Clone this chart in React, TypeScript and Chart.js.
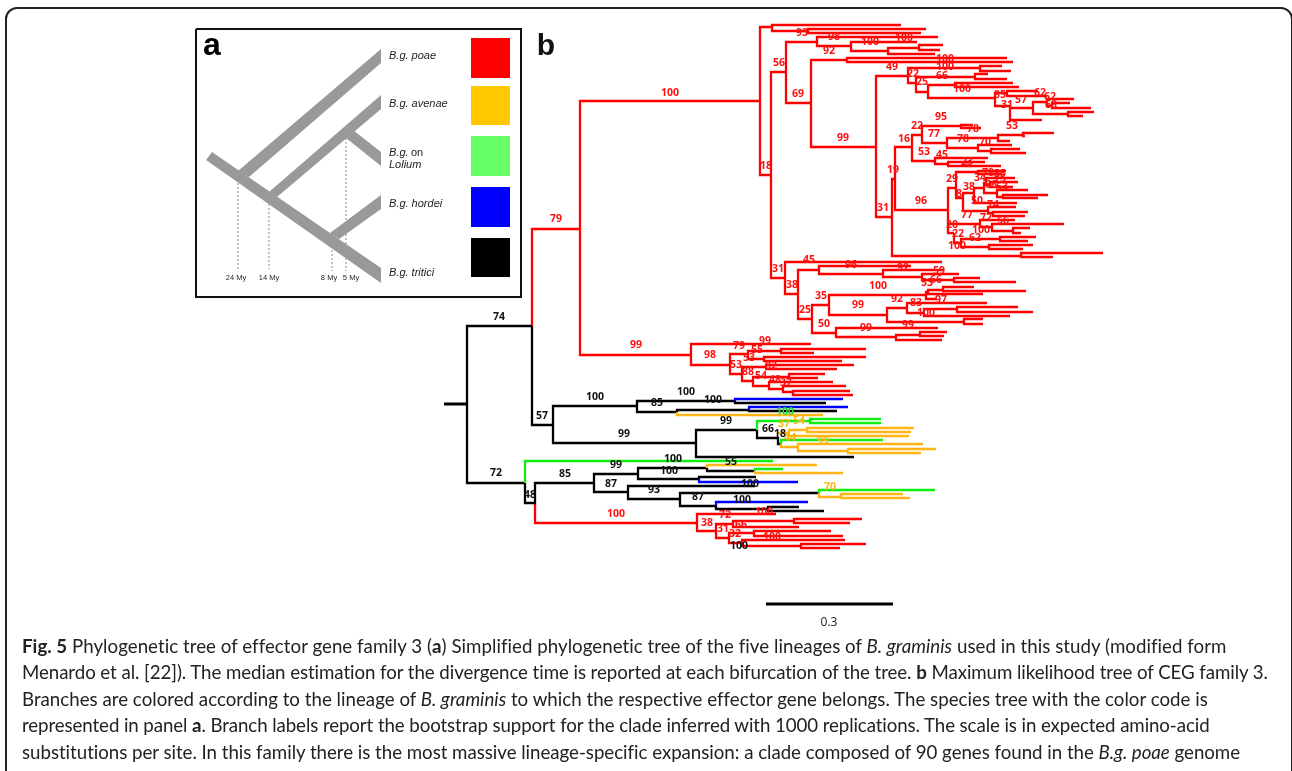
import React, { useEffect, useRef } from "react";
import { Chart, registerables } from "chart.js";

Chart.register(...registerables);

// Node brackets: [node position, upper tip y, upper tip x, lower tip y, lower tip x]
const redNodes = [
  [760,27,772,175,771],[772,25,901,31,808],[808,29,926,33,921],[771,72,786,278,785],
  [786,42,817,103,811],[817,37,938,46,851],[851,42,917,51,888],[888,48,919,54,935],
  [919,45,943,50,940],[811,60,847,147,876],[847,58,1007,62,1013],[876,76,908,217,892],
  [908,68,980,83,916],[916,77,975,92,928],[980,66,1002,71,1011],[975,74,988,79,1007],
  [928,85,955,98,995],[955,83,1013,87,1019],[995,93,1007,106,1010],[1007,91,1038,96,1047],
  [1010,108,1033,120,1042],[1033,102,1047,114,1068],[1047,99,1074,106,1052],[1052,103,1070,108,1091],
  [1068,112,1094,116,1083],[892,179,895,256,1021],[895,147,912,210,948],[1021,253,1103,257,1053],
  [912,135,922,161,935],[922,126,961,143,947],[961,125,973,128,981],[947,138,998,148,978],
  [998,135,1023,141,1010],[1023,133,1054,136,1025],[978,145,1012,151,991],[991,149,1020,153,1026],
  [935,158,988,164,948],[948,162,985,166,1001],[948,188,956,233,954],[956,172,978,198,963],
  [978,171,1006,174,1002],[963,193,974,211,988],[974,188,984,203,1017],[984,183,986,193,997],
  [986,178,1015,185,990],[990,182,1018,187,1013],[997,190,1028,197,1003],[1003,195,1048,198,1038],
  [988,207,1016,213,993],[993,212,1028,216,1025],[948,224,980,233,954],[980,220,1015,227,992],
  [992,224,1064,231,1013],[1013,228,1030,233,1021],[954,233,954,243,961],[961,239,1000,247,989],
  [1000,237,1036,241,1028],[989,245,1033,249,1023],[785,262,942,294,798],[798,270,819,319,812],
  [819,266,911,274,883],[883,270,944,277,922],[922,274,959,280,954],[954,278,980,282,1016],
  [812,305,829,333,836],[829,295,926,315,887],[926,292,928,299,937],[928,290,943,294,983],
  [943,287,974,291,1026],[887,308,907,322,964],[907,303,987,313,924],[924,309,957,316,1010],
  [957,307,1018,312,1033],[964,319,983,324,983],[836,328,938,337,896],[896,335,920,340,942],
  [920,332,947,336,944],[580,101,760,355,691],[691,344,811,365,730],[730,354,748,374,742],
  [748,351,781,359,764],[781,349,866,353,814],[764,357,866,361,842],[742,367,766,381,753],
  [766,365,854,369,837],[753,377,789,386,769],[789,374,825,378,818],[769,382,833,389,783],
  [783,386,846,392,793],[793,391,850,395,853],[697,514,776,531,716],[716,524,733,538,729],
  [733,521,794,527,799],[794,519,862,523,850],[729,533,754,543,742],[754,531,831,536,843],
  [742,540,845,546,801],[801,544,866,548,840],
];
const blackNodes = [
  [467,326,532,483,525],[553,406,637,443,696],[637,401,735,412,677],[696,430,757,457,854],
  [594,474,638,492,628],[638,468,707,479,699],[628,486,755,499,680],[680,493,819,506,716],
  [768,507,799,511,824],
];
const greenNodes = [[810,419,881,423,881]];
const orangeNodes = [
  [789,430,807,436,909],[807,428,914,432,911],[798,444,923,451,848],[848,449,936,453,921],
  [841,494,903,498,910],
];

// Branch paths whose colour changes at a node: x, y, x, y ...
const redPaths = [[580,229,532,229,532,326],[535,503,535,523,697,523]];
const blackPaths = [
  [532,326,532,425,553,425],[735,401,735,403,826,403],[677,412,677,410,749,410],
  [749,410,749,411,837,411],[757,430,757,438,778,438,778,444,781,444],
  [525,483,525,503,535,503,535,483,594,483],[707,468,707,471,755,471],
  [699,479,699,477,756,477],[716,506,716,509,768,509],
];
const bluePaths = [
  [735,401,735,399,843,399],[749,410,749,407,848,407],[699,479,699,482,798,482],
  [716,506,716,502,808,502],
];
const orangePaths = [
  [677,412,677,415,823,415],[778,433,789,433],[781,444,781,447,798,447],
  [707,468,707,465,817,465],[755,471,755,473,843,473],[819,493,819,497,841,497],
];
const greenPaths = [
  [757,430,757,421,810,421],[781,444,781,440,883,440],[525,483,525,461,773,461],
  [755,471,755,469,783,469],[819,493,819,490,935,490],
];
const rootStub = [444,404,467,404];
const scaleBar = [766,604,893,604];

// Bootstrap support labels: [text, x, y]
const redLabels: [string, number, number][] = [
  ["100",670,93],["79",556,219],["99",636,345],["93",802,33],["98",834,37],["100",870,42],
  ["100",904,38],["92",829,51],["56",779,63],["69",798,94],["49",892,67],["100",945,59],
  ["100",945,67],["22",913,74],["66",942,76],["25",922,82],["100",962,89],["85",1000,95],
  ["62",1040,93],["62",1050,97],["57",1021,100],["31",1007,105],["68",1051,105],["53",1012,126],
  ["95",941,117],["22",917,126],["78",973,129],["77",934,134],["16",904,139],["99",843,138],
  ["78",963,139],["70",985,142],["53",924,152],["45",942,155],["23",967,162],["19",893,170],
  ["18",766,166],["31",883,208],["96",921,201],["29",952,179],["78",988,173],["55",1000,174],
  ["34",980,178],["75",1000,179],["38",969,187],["66",991,185],["53",1002,187],["8",959,194],
  ["50",977,201],["74",993,205],["77",967,215],["72",986,218],["56",1003,221],["20",952,225],
  ["100",981,230],["22",958,234],["62",975,238],["100",957,246],["45",809,260],["96",851,265],
  ["92",903,268],["59",939,271],["66",936,280],["53",927,283],["100",878,286],["31",778,269],
  ["38",792,285],["35",821,296],["92",897,299],["97",941,300],["83",916,303],["99",858,305],
  ["25",805,310],["100",926,313],["50",824,324],["99",908,325],["99",866,328],["99",765,341],
  ["79",739,346],["55",757,350],["98",710,355],["53",749,358],["53",736,365],["82",771,366],
  ["88",748,372],["54",761,376],["48",775,380],["37",786,383],["100",616,514],["38",707,523],
  ["72",725,515],["100",764,512],["66",741,525],["31",723,529],["32",735,534],["100",772,537],
];
const blackLabels: [string, number, number][] = [
  ["74",499,317],["57",542,416],["100",595,397],["85",657,403],["100",686,392],["100",713,400],
  ["99",726,421],["99",624,434],["66",768,429],["18",780,434],["72",496,473],["85",565,474],
  ["99",616,465],["100",673,459],["55",731,462],["100",669,471],["87",611,484],["93",654,490],
  ["87",698,497],["48",530,495],["100",750,484],["100",742,500],["100",739,546],
];
const greenLabels: [string, number, number][] = [["100",785,412]];
const orangeLabels: [string, number, number][] = [
  ["37",784,424],["54",799,421],["44",790,438],["99",823,441],["70",830,487],
];

// Panel a: species tree bands, times and lineage key
const speciesBands = [
  [212,152,381,268,381,283,206,160],
  [238,171,381,49,381,63,249,177],
  [269,192,381,95,381,109,277,197],
  [353,130,381,152,381,166,346,138],
  [330,233,381,195,381,209,339,239],
];
const divergenceLines = [
  [238,171,238,269],[269,192,269,269],[332,234,332,271],[346,138,346,271],
];
const divergenceLabels: [string, number, number][] = [
  ["24 My",236,277],["14 My",269,277],["8 My",329,277],["5 My",351,277],
];
const lineageItalic: [string, number, number][] = [
  ["B.g. poae",389,55],["B.g. avenae",389,103],["B.g.",389,152],["Lolium",389,164],
  ["B.g. hordei",389,203],["B.g. tritici",389,272],
];
const lineagePlain: [string, number, number][] = [["on",411,152]];
const keyColours = ["#FF0000","#FFC800","#66FF66","#0000FF","#000000"];
const keyTops = [38,86,136,187,238];
const keyBottoms = [78,125,176,227,277];
const panelFrame = [196,29,521,29,521,297,196,297,196,29];

const captionLines = [
  <><b>Fig. 5</b> Phylogenetic tree of effector gene family 3 (<b>a</b>) Simplified phylogenetic tree of the five lineages of <i>B. graminis</i> used in this study (modified form</>,
  <>Menardo et al. [22]). The median estimation for the divergence time is reported at each bifurcation of the tree. <b>b</b> Maximum likelihood tree of CEG family 3.</>,
  <>Branches are colored according to the lineage of <i>B. graminis</i> to which the respective effector gene belongs. The species tree with the color code is</>,
  <>represented in panel <b>a</b>. Branch labels report the bootstrap support for the clade inferred with 1000 replications. The scale is in expected amino-acid</>,
  <>substitutions per site. In this family there is the most massive lineage-specific expansion: a clade composed of 90 genes found in the <i>B.g. poae</i> genome</>,
];
const captionTops = [646,672,699,725,752];
const captionSpacing = [0.035,-0.07,0.013,-0.093,-0.03];

const GAP = { x: NaN, y: NaN };
const toPoints = (flat: number[]) => {
  const pts = [];
  for (let i = 0; i < flat.length; i += 2) pts.push({ x: flat[i], y: flat[i + 1] });
  return pts;
};
const fromNodes = (nodes: number[][]) =>
  nodes.flatMap(([x, yt, xt, yb, xb]) => [
    { x: xt, y: yt }, { x, y: yt }, { x, y: yb }, { x: xb, y: yb }, GAP,
  ]);
const fromPaths = (paths: number[][]) => paths.flatMap((p) => [...toPoints(p), GAP]);

const lineSet = (data: any[], color: string, width = 2.3, dash: number[] = []) => ({
  data, borderColor: color, borderWidth: width, borderDash: dash, showLine: true,
  pointRadius: 0, fill: false, spanGaps: false, borderJoinStyle: "miter" as const, tension: 0,
});
const polySet = (flat: number[], color: string) => ({
  data: toPoints([...flat, flat[0], flat[1]]), borderColor: color, borderWidth: 0,
  backgroundColor: color, showLine: true, pointRadius: 0, fill: "shape", tension: 0,
});

const labelPlugin = {
  id: "labels",
  afterDatasetsDraw(chart: any) {
    const { ctx, scales } = chart;
    const put = (items: [string, number, number][], font: string, color: string, align: CanvasTextAlign) => {
      ctx.save();
      ctx.font = font;
      ctx.fillStyle = color;
      ctx.textAlign = align;
      ctx.textBaseline = "middle";
      for (const [t, x, y] of items) ctx.fillText(t, scales.x.getPixelForValue(x), scales.y.getPixelForValue(y) + 0.5);
      ctx.restore();
    };
    const tree = "bold 10.5px 'Open Sans'";
    put(redLabels, tree, "#FF1010", "center");
    put(blackLabels, tree, "#111", "center");
    put(greenLabels, tree, "#22DD22", "center");
    put(orangeLabels, tree, "#FFB515", "center");
    put(divergenceLabels, "7.5px 'Liberation Sans'", "#222", "center");
    put(lineageItalic, "italic 11px 'Liberation Sans'", "#222", "left");
    put(lineagePlain, "11px 'Liberation Sans'", "#222", "left");
    put([["a", 212, 46]], "bold 32px 'Liberation Sans'", "#000", "center");
    put([["b", 546, 46]], "bold 30px 'Liberation Sans'", "#111", "center");
    put([["0.3", 829, 622]], "12px 'Open Sans'", "#222", "center");
  },
};

export default function App() {
  const ref = useRef<HTMLCanvasElement>(null);
  useEffect(() => {
    const datasets: any[] = [
      ...speciesBands.map((b) => polySet(b, "#999999")),
      lineSet(fromPaths(divergenceLines), "#888888", 1, [2, 2]),
      ...keyColours.map((c, i) =>
        polySet([471, keyTops[i], 510, keyTops[i], 510, keyBottoms[i], 471, keyBottoms[i]], c)),
      lineSet(toPoints(panelFrame), "#111111", 2),
      lineSet([...fromNodes(orangeNodes), ...fromPaths(orangePaths)], "#FFB515"),
      lineSet([...fromNodes(greenNodes), ...fromPaths(greenPaths)], "#11EE11"),
      lineSet(fromPaths(bluePaths), "#0000FF"),
      lineSet([...fromNodes(blackNodes), ...fromPaths(blackPaths)], "#000000"),
      lineSet([...fromNodes(redNodes), ...fromPaths(redPaths)], "#FF0000"),
      lineSet(toPoints(rootStub), "#000000", 3),
      lineSet(toPoints(scaleBar), "#000000", 3),
    ];
    const chart = new Chart(ref.current!, {
      type: "scatter",
      data: { datasets },
      plugins: [labelPlugin],
      options: {
        animation: false,
        responsive: false,
        devicePixelRatio: 1,
        layout: { padding: 0 },
        plugins: { legend: { display: false }, tooltip: { enabled: false } },
        scales: {
          x: { type: "linear", min: 0, max: 1292, display: false },
          y: { type: "linear", min: 0, max: 771, reverse: true, display: false },
        },
      },
    } as any);
    return () => chart.destroy();
  }, []);
  return (
    <div style={{ position: "absolute", left: 0, top: 0, width: 1292, height: 771, overflow: "hidden", background: "#fff" }}>
      <div style={{ position: "absolute", left: 5, top: 7, width: 1284, height: 780, border: "2px solid #222", borderRadius: 12 }} />
      <canvas ref={ref} width={1292} height={771} style={{ position: "absolute", left: 0, top: 0, display: "block" }} />
      {captionLines.map((line, i) => (
        <div key={i} style={{
          position: "absolute", left: 22, top: captionTops[i] - 13, height: 26,
          whiteSpace: "nowrap", font: "18.7px/26px Lato", color: "#222", letterSpacing: captionSpacing[i],
          fontVariantLigatures: "none",
        }}>{line}</div>
      ))}
    </div>
  );
}
